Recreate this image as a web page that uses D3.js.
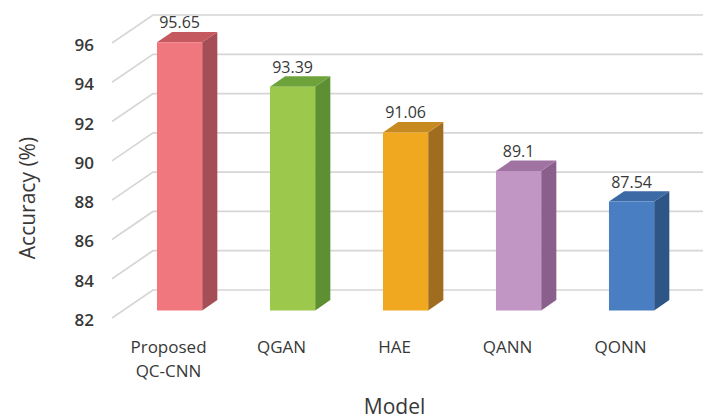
<!DOCTYPE html>
<html>
<head>
<meta charset="utf-8">
<script src="https://cdn.jsdelivr.net/npm/d3@7"></script>
<style>
  body { margin: 0; background: #ffffff; }
  svg { display: block; }
  text { font-family: "Open Sans", "Liberation Sans", sans-serif; fill: #383838; }
</style>
</head>
<body>
<svg id="chart" width="703" height="419"></svg>
<script>
// Model names (category axis) and their label lines
const models = ["Proposed QC-CNN", "QGAN", "HAE", "QANN", "QONN"];
const modelLines = [["Proposed", "QC-CNN"], ["QGAN"], ["HAE"], ["QANN"], ["QONN"]];
// Accuracy (%) per model
const accuracy = [95.65, 93.39, 91.06, 89.1, 87.54];
// Value axis ticks
const yTicks = [82, 84, 86, 88, 90, 92, 94, 96];
// Face colours of each 3-D column
const frontColors = ["#f0777e", "#9cc84b", "#efa820", "#c196c5", "#4a7ec2"];
const sideColors  = ["#a64e55", "#5d8f33", "#a06d20", "#8b5f8c", "#2d5585"];
const topColors   = ["#c4595f", "#6da33a", "#c68a20", "#a073a2", "#3b6aa5"];

const svg = d3.select("#chart");

// Oblique projection: z = 0 is the front plane, z = 1 the back wall
const depth = { dx: 41, dy: 28 };
const barZ0 = 0.27, barZ1 = 0.64;
const proj = (px, py, z) => [px + z * depth.dx, py - z * depth.dy];

const x = d3.scaleBand().domain(models).range([112, 677])
  .paddingInner(0.6).paddingOuter(0.3);
const y = d3.scaleLinear().domain([82, 96]).range([318, 43]);
const bw = x.bandwidth();

// Gridlines: diagonal on the side wall, horizontal on the back wall
const grid = svg.append("g").attr("fill", "none")
  .attr("stroke", "#d6d6d6").attr("stroke-width", 1.7);
grid.selectAll("path").data(yTicks).join("path")
  .attr("d", t => {
    const a = proj(x.range()[0], y(t), 0);
    const b = proj(x.range()[0], y(t), 1);
    const c = proj(x.range()[1], y(t), 1);
    return d3.line()([a, b, c]);
  });

// Columns: side, top, then front face
const bars = svg.append("g");
models.forEach((m, i) => {
  const v = accuracy[i];
  const x0 = x(m), x1 = x0 + bw;
  const yt = y(v), yb = y(82);
  const g = bars.append("g");
  const poly = pts => d3.line()(pts.map(p => proj(p[0], p[1], p[2]))) + "Z";
  g.append("path").attr("fill", sideColors[i])
    .attr("d", poly([[x1, yt, barZ0], [x1, yt, barZ1], [x1, yb, barZ1], [x1, yb, barZ0]]));
  g.append("path").attr("fill", topColors[i])
    .attr("d", poly([[x0, yt, barZ0], [x1, yt, barZ0], [x1, yt, barZ1], [x0, yt, barZ1]]));
  g.append("path").attr("fill", frontColors[i])
    .attr("d", poly([[x0, yt, barZ0], [x1, yt, barZ0], [x1, yb, barZ0], [x0, yb, barZ0]]));
  const lp = proj(x0 + bw / 2, yt, barZ0);
  g.append("text").attr("x", lp[0]).attr("y", lp[1] - 14)
    .attr("text-anchor", "middle").attr("font-size", 16).attr("font-weight", 500)
    .text(v);
});

// Value axis labels
const yAxis = svg.append("g").attr("transform", `translate(${x.range()[0]},2)`)
  .call(d3.axisLeft(y).tickValues(yTicks).tickSize(0).tickPadding(18));
yAxis.select(".domain").remove();
yAxis.selectAll("text").attr("font-size", 17).attr("font-weight", 600).attr("fill", "#383838")
  .style("font-family", "'Open Sans', sans-serif");

// Category axis labels
const xAxis = svg.append("g").attr("transform", `translate(0,${y(82)})`)
  .call(d3.axisBottom(x).tickSize(0).tickPadding(0));
xAxis.select(".domain").remove();
xAxis.selectAll(".tick text").each(function (d, i) {
  const t = d3.select(this).text(null).attr("y", 0).attr("dy", null)
    .attr("font-size", 17).attr("font-weight", 500).attr("fill", "#383838")
    .style("font-family", "'Open Sans', sans-serif");
  modelLines[i].forEach((line, k) => {
    t.append("tspan").attr("x", 0).attr("y", 35 + k * 24).text(line);
  });
});

// Axis titles
svg.append("text").attr("x", (x.range()[0] + x.range()[1]) / 2).attr("y", 414)
  .attr("text-anchor", "middle").attr("font-size", 21).attr("font-weight", 500).text("Model");
svg.append("text").attr("transform", "translate(27,198) rotate(-90)")
  .attr("text-anchor", "middle").attr("dominant-baseline", "central")
  .attr("font-size", 21).attr("font-weight", 500).text("Accuracy (%)");
</script>
</body>
</html>
